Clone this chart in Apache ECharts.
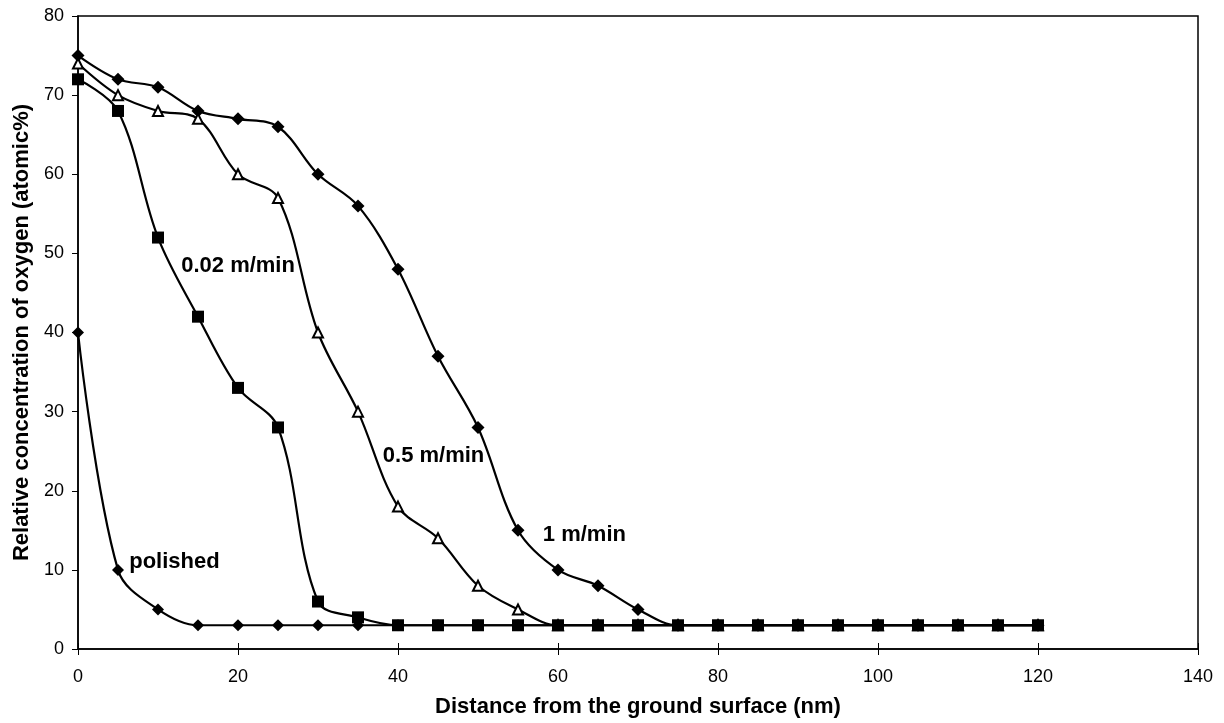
<!DOCTYPE html>
<html><head><meta charset="utf-8">
<script src="https://cdn.jsdelivr.net/npm/echarts@6/dist/echarts.min.js"></script>
<style>html,body{margin:0;padding:0;background:#fff}#c{width:1224px;height:723px}</style>
</head><body><div id="c"></div>
<script>
const distances = [0,5,10,15,20,25,30,35,40,45,50,55,60,65,70,75,80,85,90,95,100,105,110,115,120];
const oneMmin   = [75,72,71,68,67,66,60,56,48,37,28,15,10,8,5,3,3,3,3,3,3,3,3,3,3];
const halfMmin  = [74,70,68,67,60,57,40,30,18,14,8,5,3,3,3,3,3,3,3,3,3,3,3,3,3];
const slowMmin  = [72,68,52,42,33,28,6,4,3,3,3,3,3,3,3,3,3,3,3,3,3,3,3,3,3];
const polished  = [40,10,5,3,3,3,3,3,3,3,3,3,3,3,3,3,3,3,3,3,3,3,3,3,3];
const labels = [
  {text:'0.02 m/min', x:12.9, y:48.4},
  {text:'0.5 m/min', x:38.1, y:24.4},
  {text:'1 m/min', x:58.1, y:14.4},
  {text:'polished', x:6.4, y:11.0}
];
const pair = arr => distances.map((d,i)=>[d,arr[i]]);
const font = 'Liberation Sans, Arial, sans-serif';
const chart = echarts.init(document.getElementById('c'));
const base = {type:'line', smooth:0.35, lineStyle:{color:'#000', width:2.2}, itemStyle:{color:'#000'}, z:3};
chart.setOption({
  animation:false,
  grid:{left:78, right:26, top:16, bottom:72, show:true, borderColor:'#000', borderWidth:1.5},
  xAxis:[{type:'value', min:0, max:140, interval:20,
    name:'Distance from the ground surface (nm)', nameLocation:'middle', nameGap:47,
    nameTextStyle:{fontFamily:font, fontSize:22, fontWeight:'bold', color:'#000'},
    axisLine:{lineStyle:{color:'#000', width:1.5}}, axisTick:{length:6, lineStyle:{color:'#000'}},
    axisLabel:{fontFamily:font, fontSize:18, color:'#000', margin:19}, splitLine:{show:false}},
   {type:'value', position:'bottom', min:0, max:140, interval:20, axisLine:{show:false},
    axisTick:{inside:true, length:6, lineStyle:{color:'#000'}}, axisLabel:{show:false}, splitLine:{show:false}}],
  yAxis:{type:'value', min:0, max:80, interval:10,
    name:'Relative concentration of oxygen (atomic%)', nameLocation:'middle', nameGap:45,
    nameTextStyle:{fontFamily:font, fontSize:22, fontWeight:'bold', color:'#000'},
    axisLine:{show:true, lineStyle:{color:'#000', width:1.5}}, axisTick:{show:true, length:6, lineStyle:{color:'#000'}},
    axisLabel:{fontFamily:font, fontSize:18, color:'#000', margin:14}, splitLine:{show:false}},
  series:[
    Object.assign({}, base, {name:'polished', data:pair(polished), symbol:'diamond', symbolSize:12}),
    Object.assign({}, base, {name:'1 m/min', data:pair(oneMmin), symbol:'diamond', symbolSize:13}),
    Object.assign({}, base, {name:'0.5 m/min', data:pair(halfMmin), symbol:'triangle', symbolSize:10,
      itemStyle:{color:'#fff', borderColor:'#000', borderWidth:2}}),
    Object.assign({}, base, {name:'0.02 m/min', z:4, data:pair(slowMmin), symbol:'rect', symbolSize:12,
      markPoint:{symbol:'circle', symbolSize:0, silent:true,
        label:{show:true, position:'right', distance:0, formatter:p=>p.name, fontFamily:font, fontSize:22, fontWeight:'bold', color:'#000'},
        data:labels.map(l=>({name:l.text, coord:[l.x,l.y]}))}})
  ]
});
</script></body></html>
